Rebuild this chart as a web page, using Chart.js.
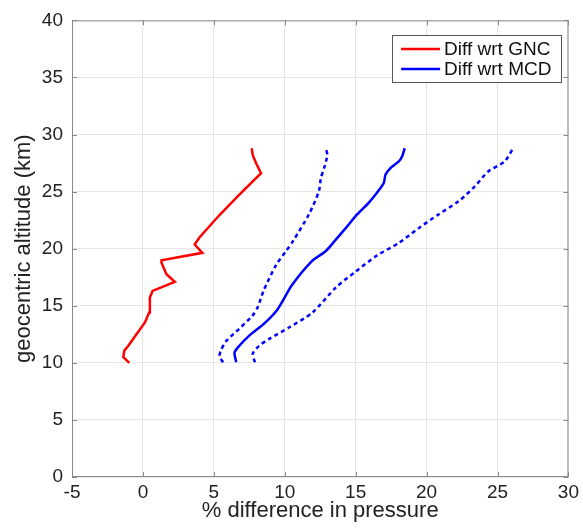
<!DOCTYPE html>
<html>
<head>
<meta charset="utf-8">
<script src="https://cdn.jsdelivr.net/npm/chart.js@4"></script>
<style>
  html, body { margin: 0; padding: 0; background: #fff; }
  #wrap { width: 583px; height: 529px; }
</style>
</head>
<body>
<div id="wrap"><canvas id="chart" width="583" height="529"></canvas></div>
<script>
// GNC difference (red)
let gncAlt  = [10.0, 10.5, 11.07, 11.5, 12.53, 13.54, 14.41, 15.72, 16.3, 17.1, 17.76, 18.77, 18.98, 19.64, 20.37, 21.0, 22.95, 24.73, 26.62, 27.49, 28.22, 28.8];
let gncDiff = [-0.96, -1.38, -1.31, -1.03, -0.44, 0.14, 0.44, 0.49, 0.68, 2.25, 1.66, 1.31, 1.31, 4.19, 3.65, 4.0, 5.4, 6.8, 8.33, 7.98, 7.74, 7.67];

// MCD difference (blue solid)
let mcdAlt  = [10.05, 10.9, 11.5, 12.38, 13.5, 14.7, 16.8, 18.9, 19.8, 20.8, 21.8, 23.0, 24.0, 24.9, 25.75, 26.47, 27.05, 27.64, 28.07, 28.8];
let mcdDiff = [6.58, 6.46, 6.8, 7.5, 8.6, 9.5, 10.5, 11.9, 12.9, 13.6, 14.3, 15.1, 15.9, 16.5, 16.98, 17.1, 17.45, 18.04, 18.27, 18.46];

// MCD envelope (blue dotted), lower and upper
let mcdLoAlt  = [10.05, 10.6, 11.1, 11.9, 13.0, 14.1, 14.9, 16.3, 18.6, 19.8, 20.7, 23.0, 25.0, 26.2, 27.05, 28.2, 28.8];
let mcdLoDiff = [5.64, 5.4, 5.5, 5.87, 6.8, 7.7, 8.1, 8.5, 9.4, 10.1, 10.6, 11.7, 12.4, 12.55, 12.77, 13.0, 12.89];
let mcdHiAlt  = [10.05, 10.8, 11.5, 12.1, 13.1, 14.4, 16.6, 18.0, 19.4, 20.5, 21.8, 23.0, 24.15, 25.46, 26.77, 27.64, 28.8];
let mcdHiDiff = [7.9, 7.74, 8.2, 8.9, 10.3, 11.95, 13.6, 15.0, 16.5, 18.04, 19.44, 20.84, 22.25, 23.4, 24.35, 25.5, 26.1];

let xTicks = [-5, 0, 5, 10, 15, 20, 25, 30];
let yTicks = [0, 5, 10, 15, 20, 25, 30, 35, 40];

const FONT = "'Liberation Sans', Arial, Helvetica, sans-serif";
const RED = '#ff0000', BLUE = '#0000ff';

const pts = (xs, ys) => xs.map((x, i) => ({x: x, y: ys[i]}));

// box around the axes + inward ticks, matlab style
const frame = {
    id: 'frame',
    afterDatasetsDraw: (chart) => {
        const ctx = chart.ctx, a = chart.chartArea;
        const sx = chart.scales.x, sy = chart.scales.y;
        ctx.save();
        ctx.strokeStyle = '#8a8a8a';
        ctx.lineWidth = 1;
        ctx.strokeRect(a.left + 0.5, a.top + 0.5, a.right - a.left - 1, a.bottom - a.top - 1);
        ctx.beginPath();
        xTicks.forEach(v => {
            let px = Math.round(sx.getPixelForValue(v)) + 0.5;
            ctx.moveTo(px, a.bottom); ctx.lineTo(px, a.bottom - 5);
            ctx.moveTo(px, a.top); ctx.lineTo(px, a.top + 5);
        });
        yTicks.forEach(v => {
            let py = Math.round(sy.getPixelForValue(v)) + 0.5;
            ctx.moveTo(a.left, py); ctx.lineTo(a.left + 5, py);
            ctx.moveTo(a.right, py); ctx.lineTo(a.right - 5, py);
        });
        ctx.stroke();
        ctx.restore();
    }
};

// legend box inside the axes (top right)
const boxLegend = {
    id: 'boxLegend',
    afterDraw: (chart) => {
        const ctx = chart.ctx, a = chart.chartArea;
        const items = chart.data.datasets.filter(d => d.label);
        ctx.save();
        ctx.font = "19px " + FONT;
        let tw = Math.max(...items.map(d => ctx.measureText(d.label).width));
        let w = 52 + tw + 10, h = 47;
        let x = a.right - 7 - w, y = a.top + 15;
        ctx.fillStyle = '#fff';
        ctx.fillRect(x, y, w, h);
        ctx.strokeStyle = '#555';
        ctx.lineWidth = 1;
        ctx.strokeRect(Math.round(x) + 0.5, Math.round(y) + 0.5, Math.round(w), Math.round(h));
        items.forEach((d, i) => {
            let ly = y + 13.5 + i * 20;
            ctx.strokeStyle = d.borderColor;
            ctx.lineWidth = 2.5;
            ctx.beginPath();
            ctx.moveTo(x + 9, ly);
            ctx.lineTo(x + 48, ly);
            ctx.stroke();
            ctx.fillStyle = '#111';
            ctx.textBaseline = 'middle';
            ctx.textAlign = 'left';
            ctx.fillText(d.label, x + 52, ly + 1);
        });
        ctx.restore();
    }
};

let options = {
    type: 'scatter',
    data: {
        datasets: [
            {label: 'Diff wrt GNC', data: pts(gncDiff, gncAlt), borderColor: RED, borderWidth: 2.5, tension: 0},
            {label: 'Diff wrt MCD', data: pts(mcdDiff, mcdAlt), borderColor: BLUE, borderWidth: 2.5, tension: 0.25},
            {label: '', data: pts(mcdLoDiff, mcdLoAlt), borderColor: BLUE, borderWidth: 2.5, borderDash: [4, 3.5], tension: 0.25},
            {label: '', data: pts(mcdHiDiff, mcdHiAlt), borderColor: BLUE, borderWidth: 2.5, borderDash: [4, 3.5], tension: 0.25}
        ].map(d => Object.assign(d, {showLine: true, pointRadius: 0, pointHoverRadius: 0, fill: false, backgroundColor: d.borderColor}))
    },
    plugins: [frame, boxLegend],
    options: {
        responsive: false,
        animation: false,
        events: [],
        layout: {padding: {top: 18, right: 12, left: 0, bottom: 0}},
        plugins: {
            legend: {display: false},
            tooltip: {enabled: false}
        },
        scales: {
            x: {
                type: 'linear',
                min: -5, max: 30,
                afterFit: s => { s.height = 52 },
                afterBuildTicks: s => { s.ticks = xTicks.map(v => ({value: v})) },
                grid: {color: '#e6e6e6', drawTicks: false},
                border: {display: false},
                ticks: {color: '#222', font: {family: FONT, size: 19}, padding: 4, maxRotation: 0},
                title: {display: true, text: '% difference in pressure', color: '#222',
                    font: {family: FONT, size: 22}, padding: {top: 0, bottom: 5}}
            },
            y: {
                type: 'linear',
                min: 0, max: 40,
                afterFit: s => { s.width = 72 },
                afterBuildTicks: s => { s.ticks = yTicks.map(v => ({value: v})) },
                grid: {color: '#e6e6e6', drawTicks: false},
                border: {display: false},
                ticks: {color: '#222', font: {family: FONT, size: 19}, padding: 9},
                title: {display: true, text: 'geocentric altitude (km)', color: '#222',
                    font: {family: FONT, size: 22}, padding: {top: 11, bottom: 0}}
            }
        }
    }
};

const chart = new Chart(document.getElementById('chart'), options);
</script>
</body>
</html>
